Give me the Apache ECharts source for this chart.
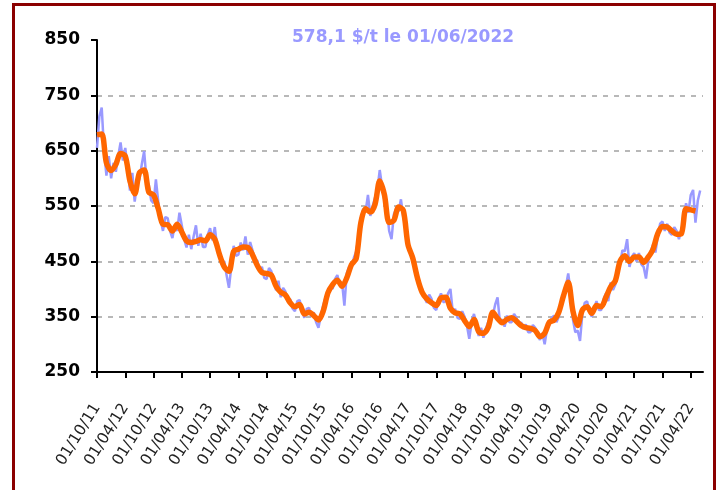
<!DOCTYPE html>
<html><head><meta charset="utf-8">
<script src="https://cdn.jsdelivr.net/npm/echarts@6/dist/echarts.min.js"></script>
<style>html,body{margin:0;padding:0;background:#fff}#c{width:723px;height:490px}</style>
</head><body><div id="c"></div><script>
// x tick positions in months since 01/10/2011, and their labels
const tickMonths = [0,6,12,18,24,30,36,42,48,54,60,66,72,78,84,90,96,102,108,114,120,126];
const tickLabels = ['01/10/11','01/04/12','01/10/12','01/04/13','01/10/13','01/04/14','01/10/14','01/04/15','01/10/15','01/04/16','01/10/16','01/04/17','01/10/17','01/04/18','01/10/18','01/04/19','01/10/19','01/04/20','01/10/20','01/04/21','01/10/21','01/04/22'];
const titleText = '578,1 $/t le 01/06/2022';
// smoothed (orange) series: one value per month starting 01/10/2011
const smoothValues = [679,680,628,614,625,645,640,595,572,610,
 615,575,570,545,517,516,505,517,503,487,
 484,486,489,487,498,490,462,440,432,468,
 472,476,475,462,443,430,428,425,405,394,
 389,375,368,372,355,358,352,344,360,393,
 408,416,405,420,444,455,520,545,539,553,
 595,570,520,524,548,542,480,456,420,394,
 382,375,370,384,385,365,357,355,343,332,
 345,323,320,330,358,347,339,345,348,342,
 334,330,329,325,314,320,340,344,358,388,
 412,360,334,362,368,356,370,368,385,404,
 415,450,460,450,458,458,448,458,472,500,
 513,512,505,499,500,545,543,541];
// price (blue) series: one value per half month starting 01/10/2011
const priceValues = [655,712, 728,650, 605,640, 600,628, 612,640, 665,632, 655,618, 578,610, 558,590, 598,625,
 649,598, 588,560, 555,598, 558,525, 505,530, 528,505, 492,515, 505,538, 515,490, 475,498,
 472,495, 515,478, 500,476, 476,498, 510,488, 512,475, 470,448, 450,425, 402,440, 478,460,
 462,484, 470,495, 462,485, 470,450, 452,432, 440,420, 418,438, 432,415, 398,415, 385,402,
 395,378, 382,365, 360,378, 380,362, 348,364, 366,350, 358,340, 330,352, 370,385, 385,405,
 400,418, 425,408, 412,370, 428,440, 438,456, 468,495, 528,545, 540,570, 532,550, 565,580,
 615,585, 560,545, 505,490, 535,545, 540,562, 530,515, 488,465, 462,440, 428,405, 400,385,
 375,390, 382,366, 362,382, 392,376, 378,392, 400,358, 364,348, 346,360, 350,334, 310,340,
 355,336, 315,330, 312,328, 340,350, 352,372, 385,340, 345,332, 352,340, 340,355, 348,335,
 340,328, 336,322, 322,335, 330,316, 308,320, 300,328, 335,348, 352,340, 350,372, 382,405,
 428,395, 345,322, 325,306, 355,375, 378,360, 350,365, 378,362, 362,382, 392,378, 412,398,
 408,430, 445,470, 468,490, 440,458, 465,450, 465,445, 440,419, 452,468, 480,466, 495,518,
 522,505, 518,502, 498,512, 505,490, 508,522, 555,538, 570,579, 520,560, 578.1];

const smoothData = smoothValues.map((v,i)=>[i, v]);
const priceData = priceValues.map((v,i)=>[i/2, v]);

const chart = echarts.init(document.getElementById('c'), null, {renderer:'canvas'});
chart.setOption({
  animation: false,
  backgroundColor: '#ffffff',
  title: {
    text: titleText, left: 292, top: 29, padding: 0,
    textStyle: {color:'#9999ff', fontFamily:'DejaVu Sans', fontWeight:'bold', fontSize:17}
  },
  graphic: [{
    type:'rect', silent:true, z:100,
    shape:{x:13.5, y:4.5, width:701, height:520},
    style:{fill:'none', stroke:'#8b0000', lineWidth:3}
  }],
  grid: {left:97, right:20, top:40, height:332, containLabel:false},
  xAxis: {
    type:'value', min:0, max:128.6,
    axisLine:{show:true, onZero:false, lineStyle:{color:'#000', width:2}},
    axisTick:{show:true, customValues: tickMonths, length:6, lineStyle:{color:'#000', width:2}},
    axisLabel:{show:true, customValues: tickMonths, formatter: v => tickLabels[Math.round(v/6)] || '',
      rotate:58, margin:33, fontFamily:'DejaVu Sans', fontSize:15.5, color:'#222'},
    splitLine:{show:false}
  },
  yAxis: {
    type:'value', min:250, max:850, interval:100,
    axisLine:{show:true, lineStyle:{color:'#000', width:2}},
    axisTick:{show:true, inside:false, length:6, lineStyle:{color:'#000', width:2}},
    axisLabel:{fontFamily:'DejaVu Sans', fontWeight:'bold', fontSize:17, color:'#000', margin:17},
    splitLine:{show:true, showMinLine:false, showMaxLine:false, lineStyle:{color:'#b8b8b8', width:2, type:[5,6]}}
  },
  series: [
    {type:'line', name:'prix', data: priceData, showSymbol:false, symbol:'none',
     lineStyle:{color:'#9999ff', width:2.5}, z:2},
    {type:'line', name:'moyenne', data: smoothData, showSymbol:false, symbol:'none', smooth:0.3,
     lineStyle:{color:'#ff6600', width:5.5}, z:3}
  ]
});
</script></body></html>
